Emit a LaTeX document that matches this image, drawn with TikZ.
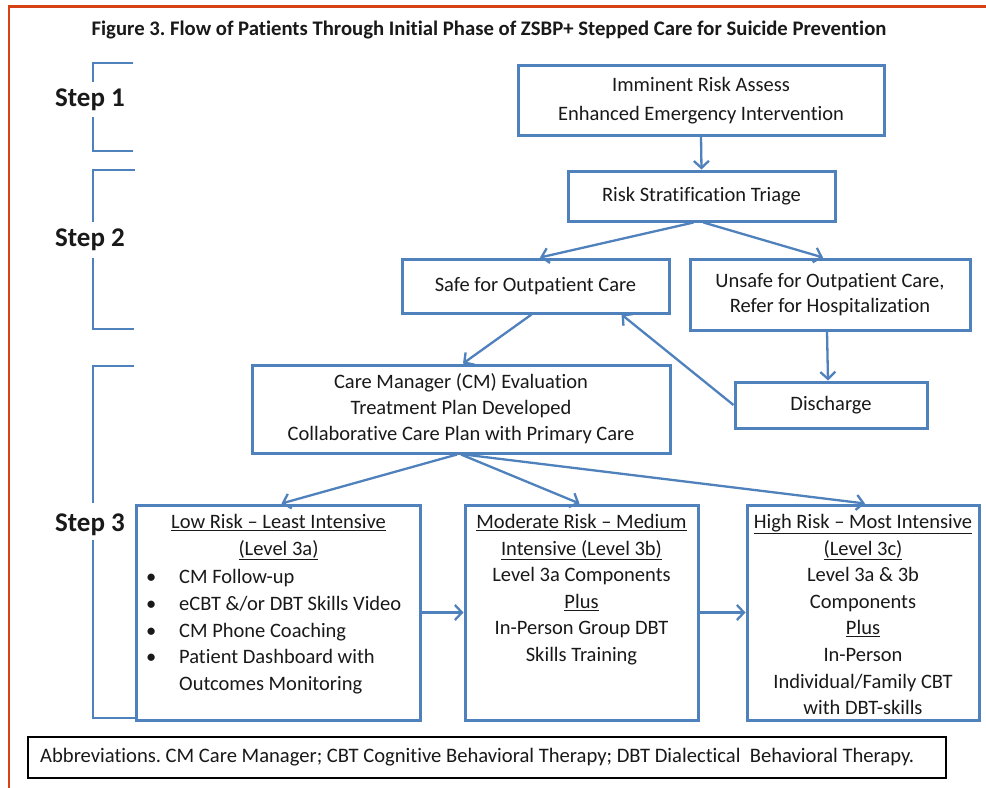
\documentclass[tikz,border=0pt]{standalone}
\usepackage{fontspec}
\setmainfont{Carlito}[Ligatures={NoCommon}]
\usetikzlibrary{arrows.meta}
\definecolor{boxblue}{RGB}{79,129,189}
\definecolor{frame}{RGB}{214,66,22}
\definecolor{txt}{RGB}{25,25,25}
\frenchspacing
\begin{document}
\begin{tikzpicture}[x=1bp,y=-1bp,
  box/.style={draw=boxblue,line width=3bp,inner sep=0pt,text=txt,align=center,
    font=\fontsize{20.5bp}{26.5bp}\selectfont},
  arr/.style={draw=boxblue,line width=2.3bp,
    -{Straight Barb[length=7bp,width=15bp,line width=2.3bp]}},
  brk/.style={draw=boxblue,line width=2.5bp},
  lbl/.style={text=txt,inner sep=0pt,font=\fontsize{20.5bp}{26.6bp}\selectfont},
  steplbl/.style={text=txt,inner sep=0pt,font=\fontsize{27bp}{30bp}\selectfont\bfseries},
]
\useasboundingbox (0,0) rectangle (986,788);
\fill[white] (0,0) rectangle (986,788);
\draw[frame,line width=2.5bp] (9,788) -- (9,6.5) -- (986,6.5);

% title
\node[text=txt,inner sep=0pt,font=\fontsize{20.7bp}{24bp}\selectfont\bfseries] (title) at (489,30)
  {Figure 3. Flow of Patients Through Initial Phase of ZSBP+ Stepped Care for Suicide Prevention};

% step brackets
\draw[brk] (133,63) -- (93,63) -- (93,82);
\draw[brk] (93,117) -- (93,151) -- (133,151);
\node[steplbl] (s1) at (90,100) {Step 1};
\draw[brk] (135,170) -- (93,170) -- (93,222);
\draw[brk] (93,258) -- (93,329) -- (134,329);
\node[steplbl] (s2) at (90,240) {Step 2};
\draw[brk] (134,366) -- (93,366) -- (93,503);
\draw[brk] (93,540) -- (93,718) -- (137,718);
\node[steplbl] (s3) at (90,525) {Step 3};

% boxes
\node[box,minimum width=366bp,minimum height=69bp,font=\fontsize{20.5bp}{29bp}\selectfont] (b1) at (701,100.5)
  {Imminent Risk Assess\\Enhanced Emergency Intervention};
\node[box,minimum width=267bp,minimum height=50bp] (b2) at (701.5,196) {Risk Stratification Triage};
\node[box,minimum width=267bp,minimum height=54bp] (b3) at (535.5,286) {Safe for Outpatient Care};
\node[box,minimum width=280bp,minimum height=71bp,font=\fontsize{20.5bp}{25bp}\selectfont] (b4) at (830,294.5)
  {Unsafe for Outpatient Care,\\Refer for Hospitalization};
\node[box,minimum width=192bp,minimum height=46bp] (b5) at (831,405) {Discharge};
\node[box,minimum width=418bp,minimum height=88bp,font=\fontsize{20.5bp}{26bp}\selectfont] (b6) at (461,409)
  {Care Manager (CM) Evaluation\\Treatment Plan Developed\\Collaborative Care Plan with Primary Care};
\node[box,minimum width=283bp,minimum height=215bp] (b7) at (278.5,612.5) {};
\node[box,minimum width=233bp,minimum height=215bp] (b8) at (581.5,612.5) {};
\node[box,minimum width=232bp,minimum height=215bp] (b9) at (863,612.5) {};

% box texts
\node[lbl,align=center,anchor=north] (b7t) at (278.5,514)
  {\underline{Low Risk – Least Intensive}\\\underline{(Level 3a)}};
\node[lbl,align=left,anchor=north west,font=\fontsize{20.5bp}{26.8bp}\selectfont] (b7l) at (146,569)
  {\makebox[33bp][l]{\textbullet}CM Follow-up\\
   \makebox[33bp][l]{\textbullet}eCBT \&/or DBT Skills Video\\
   \makebox[33bp][l]{\textbullet}CM Phone Coaching\\
   \makebox[33bp][l]{\textbullet}Patient Dashboard with\\
   \hspace*{33bp}Outcomes Monitoring};
\node[lbl,align=center,anchor=north] (b8t) at (581.5,514)
  {\underline{Moderate Risk – Medium}\\\underline{Intensive (Level 3b)}\\Level 3a Components\\\underline{Plus}\\In-Person Group DBT\\Skills Training};
\node[lbl,align=center,anchor=north] (b9t) at (863,514)
  {\underline{High Risk – Most Intensive}\\\underline{(Level 3c)}\\Level 3a \& 3b\\Components\\\underline{Plus}\\In-Person\\Individual/Family CBT\\with DBT-skills};

% abbreviations
\node[draw=black,line width=1.2bp,minimum width=918bp,minimum height=41bp,inner sep=0pt] (ab) at (487,757.5) {};
\node[lbl,anchor=west,font=\fontsize{20.6bp}{22bp}\selectfont] (abt) at (40,757.5)
  {Abbreviations. CM Care Manager; CBT Cognitive Behavioral Therapy; DBT Dialectical\ \ Behavioral Therapy.};

% connectors
\draw[arr] (b1.south) -- (b2.north);
\draw[arr] ([xshift=-8bp]b2.south) -- ([xshift=4.5bp]b3.north);
\draw[arr] ([xshift=2bp]b2.south) -- ([xshift=-7bp]b4.north);
\draw[arr] ([xshift=-4bp]b3.south) -- ([xshift=2bp]b6.north);
\draw[arr] (b5.west) -- ([xshift=86bp]b3.south);
\draw[arr] ([xshift=-3bp]b4.south) -- ([xshift=-3bp]b5.north);
\draw[arr] ([xshift=-4bp]b6.south) -- ([xshift=3bp]b7.north);
\draw[arr] ([xshift=0bp]b6.south) -- ([xshift=-2bp]b8.north);
\draw[arr] ([xshift=3bp]b6.south) -- ([xshift=2bp]b9.north);
\draw[arr] (b7.east) -- (b8.west);
\draw[arr] (b8.east) -- (b9.west);
\end{tikzpicture}
\end{document}
